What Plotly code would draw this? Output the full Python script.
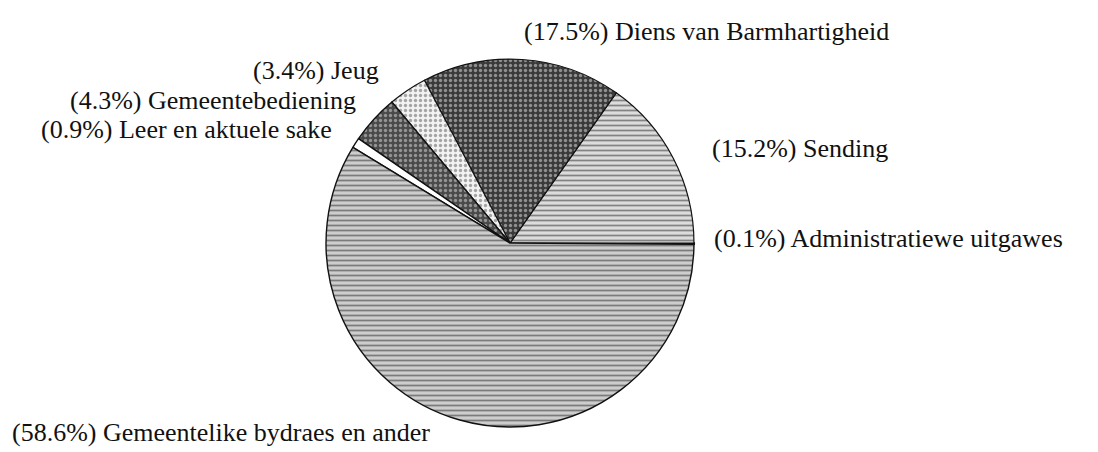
import plotly.graph_objects as go

# Data (counterclockwise from 3 o'clock)
categories = [
    "Administratiewe uitgawes",
    "Sending",
    "Diens van Barmhartigheid",
    "Jeug",
    "Gemeentebediening",
    "Leer en aktuele sake",
    "Gemeentelike bydraes en ander",
]
percentages = [0.1, 15.2, 17.5, 3.4, 4.3, 0.9, 58.6]
label_texts = [
    "(0.1%) Administratiewe uitgawes",
    "(15.2%) Sending",
    "(17.5%) Diens van Barmhartigheid",
    "(3.4%) Jeug",
    "(4.3%) Gemeentebediening",
    "(0.9%) Leer en aktuele sake",
    "(58.6%) Gemeentelike bydraes en ander",
]

bg_colors = ["#000000", "#dcdcdc", "#3a3a3a", "#f2f2f2", "#4a4a4a", "#ffffff", "#cdcdcd"]
fg_colors = ["#000000", "#2a2a2a", "#e8e8e8", "#555555", "#e0e0e0", "#ffffff", "#2a2a2a"]
shapes = ["", "-", ".", ".", ".", "", "-"]
line_widths = [2.2, 1.2, 1.2, 1.2, 1.4, 1.4, 1.4]

fig = go.Figure()
fig.add_trace(go.Pie(
    labels=categories,
    values=percentages,
    sort=False,
    direction="counterclockwise",
    rotation=90,
    textinfo="none",
    hoverinfo="label+percent",
    marker=dict(
        colors=bg_colors,
        line=dict(color="#111111", width=line_widths),
        pattern=dict(shape=shapes, fgcolor=fg_colors, bgcolor=bg_colors,
                     size=5, solidity=0.35, fillmode="overlay"),
    ),
    domain=dict(x=[0.2896, 0.6248], y=[0.073, 0.887]),
    showlegend=False,
))

font = dict(family="Liberation Serif, Times New Roman, serif", size=26, color="#111111")
# (pixel x, pixel y, anchor) for each label, same order as the data
label_pos = [
    (705, 231, "left"),
    (703, 140, "left"),
    (515, 24, "left"),
    (372, 63, "right"),
    (349, 93, "right"),
    (325, 122, "right"),
    (3, 424, "left"),
]
for text, (px, py, anchor) in zip(label_texts, label_pos):
    fig.add_annotation(
        text=text, x=px / 1098, y=1 - py / 452, xref="paper", yref="paper",
        xanchor=anchor, yanchor="middle", showarrow=False, font=font,
        borderpad=0,
    )

fig.update_layout(
    width=1098, height=452,
    margin=dict(l=0, r=0, t=0, b=0),
    paper_bgcolor="white", plot_bgcolor="white",
)
fig.write_html("out.html")
